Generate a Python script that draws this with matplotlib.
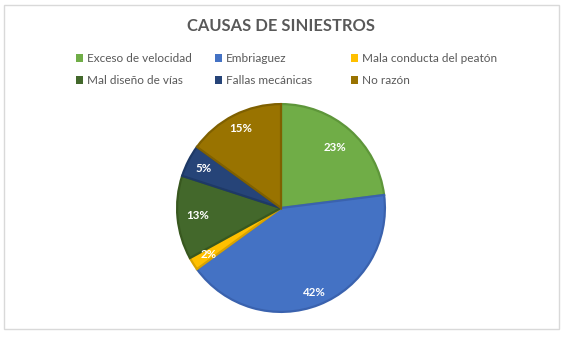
import matplotlib
matplotlib.use("Agg")
import matplotlib.pyplot as plt
import numpy as np
from matplotlib.patches import Rectangle, Patch

categories = ["Exceso de velocidad", "Embriaguez", "Mala conducta del peatón",
              "Mal diseño de vías", "Fallas mecánicas", "No razón"]
values = [23, 42, 2, 13, 5, 15]
colors = ["#70AD47", "#4472C4", "#FFC000", "#43682B", "#264478", "#997300"]
edge_colors = ["#5E963A", "#3A62AE", "#D9A300", "#38581F", "#1E3966", "#7F6000"]
label_dist = [0.78, 0.87, 0.83, 0.81, 0.84, 0.86]
title = "CAUSAS DE SINIESTROS"

plt.rcParams['font.family'] = ['Lato', 'DejaVu Sans']

W, H = 566, 337
fig = plt.figure(figsize=(W / 100, H / 100), dpi=100)
fig.patch.set_facecolor("white")

# chart frame
fig.patches.append(Rectangle((4 / W, 1 - 329 / H), 555 / W, 324 / H,
                             transform=fig.transFigure, fill=False,
                             edgecolor="#D9D9D9", linewidth=1))

cx, cy, r = 281, 208, 106
ax = fig.add_axes([(cx - r) / W, 1 - (cy + r) / H, 2 * r / W, 2 * r / H])
wedges, _ = ax.pie(values, colors=colors, startangle=90, counterclock=False,
                   radius=1, wedgeprops=dict(linewidth=1.6))
for w, ec in zip(wedges, edge_colors):
    w.set_edgecolor(ec)
ax.set_xlim(-1.02, 1.02)
ax.set_ylim(-1.02, 1.02)
ax.set_aspect("equal")
ax.axis("off")

total = sum(values)
for w, v, d in zip(wedges, values, label_dist):
    ang = np.deg2rad((w.theta1 + w.theta2) / 2)
    ax.text(d * np.cos(ang), d * np.sin(ang), f"{round(100 * v / total)}%",
            ha="center", va="center", color="white", fontsize=8.3,
            fontweight="bold")

fig.text(281 / W, 1 - 26 / H, title, ha="center", va="center",
         fontsize=11.9, fontweight="bold", color="#595959")

col_x = [76, 215, 351]
for i, x in enumerate(col_x):
    idx = [i, i + 3]
    handles = [Patch(facecolor=colors[j], edgecolor="none") for j in idx]
    leg = fig.legend(handles, [categories[j] for j in idx],
                     loc="upper left", bbox_to_anchor=(x / W, 1 - 53 / H),
                     frameon=False, fontsize=8.5, handlelength=0.6,
                     handleheight=0.6, handletextpad=0.3, labelspacing=0.95,
                     borderpad=0, borderaxespad=0)
    for t in leg.get_texts():
        t.set_color("#595959")

fig.savefig("out.png", dpi=100)
